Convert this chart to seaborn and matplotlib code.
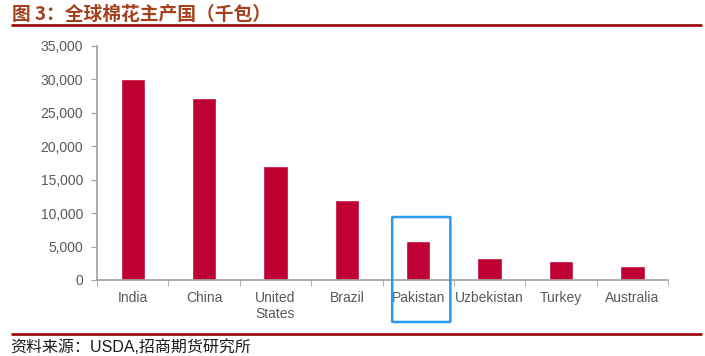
import matplotlib
matplotlib.use("Agg")
import matplotlib.pyplot as plt
import seaborn as sns
import pandas as pd
from matplotlib.patches import FancyBboxPatch
from matplotlib.lines import Line2D
from matplotlib.ticker import FuncFormatter, FixedLocator

countries = ["India", "China", "United\nStates", "Brazil", "Pakistan",
             "Uzbekistan", "Turkey", "Australia"]
output = [30000, 27200, 17000, 12000, 5800, 3300, 2800, 2100]
yticks = [0, 5000, 10000, 15000, 20000, 25000, 30000, 35000]

title = "图 3：全球棉花主产国（千包）"
source = "资料来源：USDA,招商期货研究所"

sns.set_style("white")
plt.rcParams['font.family'] = ['Liberation Sans', 'Noto Sans CJK SC', 'DejaVu Sans']

df = pd.DataFrame({"country": countries, "output": output})

fig = plt.figure(figsize=(7.05, 3.56), dpi=100)
ax = fig.add_axes([0.1376, 0.2135, 0.81, 0.6573])

sns.barplot(data=df, x="country", y="output", color="#BE0032",
            width=0.34, saturation=1, ax=ax)

axis_gray = "#A0A0A0"
text_gray = "#595959"
ax.set_ylim(0, 35000)
ax.set_xlim(-0.5, len(countries) - 0.5)
ax.set_yticks(yticks)
ax.yaxis.set_major_formatter(FuncFormatter(lambda v, p: f"{int(v):,}"))
ax.set_xlabel("")
ax.set_ylabel("")
for side in ["top", "right"]:
    ax.spines[side].set_visible(False)
for side in ["left", "bottom"]:
    ax.spines[side].set_color(axis_gray)
    ax.spines[side].set_linewidth(1.2)
ax.tick_params(axis="y", length=4, color=axis_gray, labelsize=10,
               labelcolor=text_gray, left=True, pad=6)
ax.tick_params(axis="x", which="major", length=0, labelsize=10,
               labelcolor=text_gray, pad=8)
ax.xaxis.set_minor_locator(FixedLocator([i - 0.5 for i in range(len(countries) + 1)]))
ax.tick_params(axis="x", which="minor", length=4, color=axis_gray, bottom=True)
ax.grid(False)

# blue highlight box around Pakistan
box = FancyBboxPatch((4 - 0.365, -6282), 0.815, 15700,
                     boxstyle="round,pad=0,rounding_size=0.03",
                     mutation_aspect=2000,
                     fill=False, edgecolor="#2A9BEF", linewidth=1.8,
                     clip_on=False, zorder=5)
ax.add_patch(box)

# title and source
fig.text(0.017, 0.958, title, fontsize=13.5, fontweight="bold", color="#A4401C",
         family=["Noto Sans CJK SC", "DejaVu Sans"], va="center", ha="left")
fig.add_artist(Line2D([0.017, 0.995], [0.930, 0.930], color="#9B1010", linewidth=2))
fig.add_artist(Line2D([0.017, 0.995], [0.063, 0.063], color="#9B1010", linewidth=2))
fig.text(0.015, 0.026, source, fontsize=11.5, color="#1A1A1A",
         family=["Liberation Sans", "Noto Sans CJK SC", "DejaVu Sans"],
         va="center", ha="left")

fig.savefig("out.png", dpi=100)
